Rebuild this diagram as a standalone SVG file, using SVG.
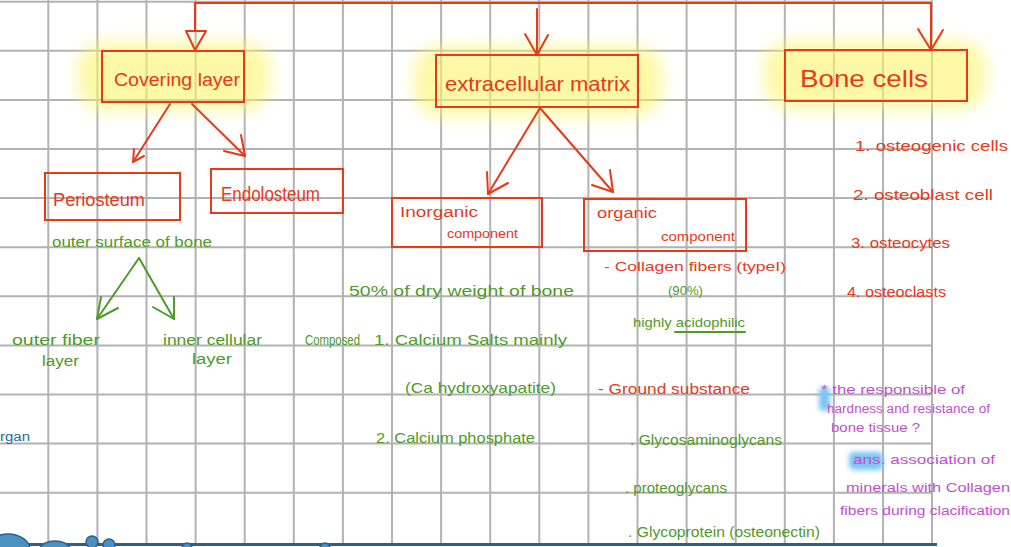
<svg xmlns="http://www.w3.org/2000/svg" width="1011" height="547" viewBox="0 0 1011 547">
<defs>
<style>
.grid line{stroke:#b2b2b2;stroke-width:2}
.box{fill:none;stroke:#e8391a;stroke-width:2}
.red{fill:#e8391a;font-family:"Liberation Sans",sans-serif}
.grn{fill:#4f9a2a;font-family:"Liberation Sans",sans-serif}
.pur{fill:#c24fcf;font-family:"Liberation Sans",sans-serif}
.blu{fill:#2a6a98;font-family:"Liberation Sans",sans-serif}
.rl{stroke:#e8391a;stroke-width:2;fill:none;stroke-linecap:round;stroke-linejoin:round}
.gl{stroke:#4f9a2a;stroke-width:2;fill:none;stroke-linecap:round;stroke-linejoin:round}
.glow{fill:#fbf56a;opacity:0.6}
.blob{fill:#4a90c0;stroke:#2a6090;stroke-width:1.5}
</style>
<filter id="blur" x="-30%" y="-60%" width="160%" height="220%"><feGaussianBlur stdDeviation="8"/></filter>
<filter id="blur2" x="-50%" y="-50%" width="200%" height="200%"><feGaussianBlur stdDeviation="2.5"/></filter>
</defs>
<rect width="1011" height="547" fill="#ffffff"/>
<g class="grid">
<line x1="48.3" y1="0" x2="48.3" y2="544"/><line x1="97.4" y1="0" x2="97.4" y2="544"/><line x1="146.5" y1="0" x2="146.5" y2="544"/><line x1="195.6" y1="0" x2="195.6" y2="544"/><line x1="244.7" y1="0" x2="244.7" y2="544"/><line x1="293.8" y1="0" x2="293.8" y2="544"/><line x1="342.9" y1="0" x2="342.9" y2="544"/><line x1="392" y1="0" x2="392" y2="544"/><line x1="441.1" y1="0" x2="441.1" y2="544"/><line x1="490.2" y1="0" x2="490.2" y2="544"/><line x1="539.3" y1="0" x2="539.3" y2="544"/><line x1="588.4" y1="0" x2="588.4" y2="544"/><line x1="637.5" y1="0" x2="637.5" y2="544"/><line x1="686.6" y1="0" x2="686.6" y2="544"/><line x1="735.7" y1="0" x2="735.7" y2="544"/><line x1="784.8" y1="0" x2="784.8" y2="544"/><line x1="833.9" y1="0" x2="833.9" y2="544"/><line x1="883" y1="0" x2="883" y2="544"/><line x1="932" y1="0" x2="932" y2="544"/>
<line x1="0" y1="1.7" x2="932" y2="1.7"/><line x1="0" y1="50.8" x2="932" y2="50.8"/><line x1="0" y1="99.9" x2="932" y2="99.9"/><line x1="0" y1="149" x2="932" y2="149"/><line x1="0" y1="198.1" x2="932" y2="198.1"/><line x1="0" y1="247.2" x2="932" y2="247.2"/><line x1="0" y1="296.3" x2="932" y2="296.3"/><line x1="0" y1="345.4" x2="932" y2="345.4"/><line x1="0" y1="394.5" x2="932" y2="394.5"/><line x1="0" y1="443.6" x2="932" y2="443.6"/><line x1="0" y1="492.7" x2="932" y2="492.7"/>
</g>
<g id="highlights">
<rect class="glow" x="78" y="42" width="192" height="68" rx="25" filter="url(#blur)"/>
<rect class="glow" x="414" y="46" width="248" height="70" rx="25" filter="url(#blur)"/>
<rect class="glow" x="764" y="41" width="222" height="68" rx="25" filter="url(#blur)"/>
<rect x="819" y="387" width="11" height="24" rx="4" fill="#7cc4f2" filter="url(#blur2)"/>
<rect x="849" y="452" width="34" height="18" rx="5" fill="#7cc4f2" filter="url(#blur2)"/>
</g>
<g id="connectors">
<polyline class="rl" points="195,31 195,3 931,3 931,50"/>
<polygon class="rl" points="186,31 206,31 195,50"/>
<polyline class="rl" points="537,9 537,55"/>
<polyline class="rl" points="525,34 537,55 548,35"/>
<polyline class="rl" points="918,29 931,50 943,30"/>
<line class="rl" x1="170" y1="104" x2="133" y2="162"/>
<polyline class="rl" points="134,149 133,162 144,156"/>
<line class="rl" x1="192" y1="104" x2="245" y2="156"/>
<polyline class="rl" points="224,151 245,156 241,135"/>
<line class="rl" x1="540" y1="108" x2="488" y2="194"/>
<polyline class="rl" points="487,172 488,194 508,183"/>
<line class="rl" x1="540" y1="108" x2="613" y2="192"/>
<polyline class="rl" points="592,185 613,192 610,170"/>
<line class="gl" x1="139" y1="258" x2="97" y2="319"/>
<polyline class="gl" points="101,297 97,319 118,308"/>
<line class="gl" x1="139" y1="258" x2="174" y2="319"/>
<polyline class="gl" points="153,307 174,319 174,297"/>
</g>
<g id="covering-layer">
<rect class="box" x="102" y="51" width="142" height="51"/>
<text class="red" x="114" y="86" font-size="18" textLength="126" lengthAdjust="spacingAndGlyphs">Covering layer</text>
</g>
<g id="extracellular-matrix">
<rect class="box" x="436" y="55" width="202" height="52"/>
<text class="red" x="445" y="91" font-size="21" textLength="185" lengthAdjust="spacingAndGlyphs">extracellular matrix</text>
</g>
<g id="bone-cells">
<rect class="box" x="785" y="50" width="182" height="51"/>
<text class="red" x="800" y="87" font-size="24" textLength="128" lengthAdjust="spacingAndGlyphs">Bone cells</text>
</g>
<g id="periosteum">
<rect class="box" x="45" y="173" width="135" height="47"/>
<text class="red" x="53" y="206" font-size="19" textLength="92" lengthAdjust="spacingAndGlyphs">Periosteum</text>
</g>
<g id="endolosteum">
<rect class="box" x="211" y="169" width="132" height="44"/>
<text class="red" x="221" y="201" font-size="20" textLength="99" lengthAdjust="spacingAndGlyphs">Endolosteum</text>
</g>
<g id="inorganic">
<rect class="box" x="392" y="198" width="150" height="49"/>
<text class="red" x="400" y="217" font-size="14" textLength="78" lengthAdjust="spacingAndGlyphs">Inorganic</text>
<text class="red" x="447" y="238" font-size="13" textLength="71" lengthAdjust="spacingAndGlyphs">component</text>
</g>
<g id="organic">
<rect class="box" x="584" y="199" width="162" height="52"/>
<text class="red" x="597" y="218" font-size="15" textLength="60" lengthAdjust="spacingAndGlyphs">organic</text>
<text class="red" x="661" y="241" font-size="13" textLength="74" lengthAdjust="spacingAndGlyphs">component</text>
</g>
<g id="periosteum-notes">
<text class="grn" x="52" y="247" font-size="14" textLength="160" lengthAdjust="spacingAndGlyphs">outer surface of bone</text>
<text class="grn" x="12" y="345" font-size="14" textLength="88" lengthAdjust="spacingAndGlyphs">outer fiber</text>
<text class="grn" x="42" y="366" font-size="14" textLength="37" lengthAdjust="spacingAndGlyphs">layer</text>
<text class="grn" x="163" y="345" font-size="14" textLength="99" lengthAdjust="spacingAndGlyphs">inner cellular</text>
<text class="grn" x="192" y="364" font-size="14" textLength="40" lengthAdjust="spacingAndGlyphs">layer</text>
<text class="blu" x="0" y="441" font-size="12" textLength="30" lengthAdjust="spacingAndGlyphs">rgan</text>
</g>
<g id="inorganic-notes">
<text class="grn" x="349" y="296" font-size="15" textLength="225" lengthAdjust="spacingAndGlyphs">50% of dry weight of bone</text>
<text class="grn" x="305" y="345" font-size="14" textLength="55" lengthAdjust="spacingAndGlyphs">Composed</text>
<text class="grn" x="374" y="345" font-size="15" textLength="193" lengthAdjust="spacingAndGlyphs">1.  Calcium  Salts   mainly</text>
<text class="grn" x="405" y="393" font-size="15" textLength="151" lengthAdjust="spacingAndGlyphs">(Ca hydroxyapatite)</text>
<text class="grn" x="376" y="443" font-size="14" textLength="159" lengthAdjust="spacingAndGlyphs">2.  Calcium phosphate</text>
</g>
<g id="organic-notes">
<text class="red" x="604" y="271" font-size="13" textLength="182" lengthAdjust="spacingAndGlyphs">-  Collagen fibers (typeI)</text>
<text class="grn" x="668" y="295" font-size="13" textLength="35" lengthAdjust="spacingAndGlyphs">(90%)</text>
<text class="grn" x="633" y="327" font-size="13" textLength="112" lengthAdjust="spacingAndGlyphs">highly acidophilic</text>
<line class="gl" x1="675" y1="332" x2="745" y2="332"/>
<text class="red" x="598" y="394" font-size="14" textLength="152" lengthAdjust="spacingAndGlyphs">-  Ground  substance</text>
<text class="grn" x="630" y="445" font-size="15" textLength="152" lengthAdjust="spacingAndGlyphs">. Glycosaminoglycans</text>
<text class="grn" x="625" y="493" font-size="14" textLength="102" lengthAdjust="spacingAndGlyphs">. proteoglycans</text>
<text class="grn" x="628" y="537" font-size="15" textLength="192" lengthAdjust="spacingAndGlyphs">. Glycoprotein  (osteonectin)</text>
</g>
<g id="bone-cell-list">
<text class="red" x="855" y="151" font-size="14" textLength="153" lengthAdjust="spacingAndGlyphs">1. osteogenic cells</text>
<text class="red" x="853" y="200" font-size="14" textLength="140" lengthAdjust="spacingAndGlyphs">2. osteoblast cell</text>
<text class="red" x="851" y="248" font-size="14" textLength="99" lengthAdjust="spacingAndGlyphs">3. osteocytes</text>
<text class="red" x="847" y="297" font-size="14" textLength="99" lengthAdjust="spacingAndGlyphs">4. osteoclasts</text>
</g>
<g id="question">
<text class="pur" x="821" y="394" font-size="13" textLength="144" lengthAdjust="spacingAndGlyphs">*  the responsible of</text>
<text class="pur" x="827" y="413" font-size="12" textLength="163" lengthAdjust="spacingAndGlyphs">hardness and resistance of</text>
<text class="pur" x="831" y="432" font-size="12" textLength="89" lengthAdjust="spacingAndGlyphs">bone  tissue ?</text>
<text class="pur" x="853" y="464" font-size="13" textLength="142" lengthAdjust="spacingAndGlyphs">ans.  association of</text>
<text class="pur" x="846" y="492" font-size="12" textLength="164" lengthAdjust="spacingAndGlyphs">minerals  with  Collagen</text>
<text class="pur" x="840" y="515" font-size="12" textLength="170" lengthAdjust="spacingAndGlyphs">fibers during clacification</text>
</g>
<g id="bottom-edge">
<line x1="0" y1="544.5" x2="937" y2="544.5" stroke="#2a6090" stroke-width="3"/>
<ellipse class="blob" cx="8" cy="550" rx="22" ry="16"/>
<ellipse class="blob" cx="55" cy="551" rx="16" ry="10"/>
<circle class="blob" cx="92" cy="542" r="6"/>
<circle class="blob" cx="109" cy="545" r="6"/>
<circle class="blob" cx="187" cy="548" r="5"/>
<circle class="blob" cx="325" cy="548" r="5"/>
</g>
</svg>
